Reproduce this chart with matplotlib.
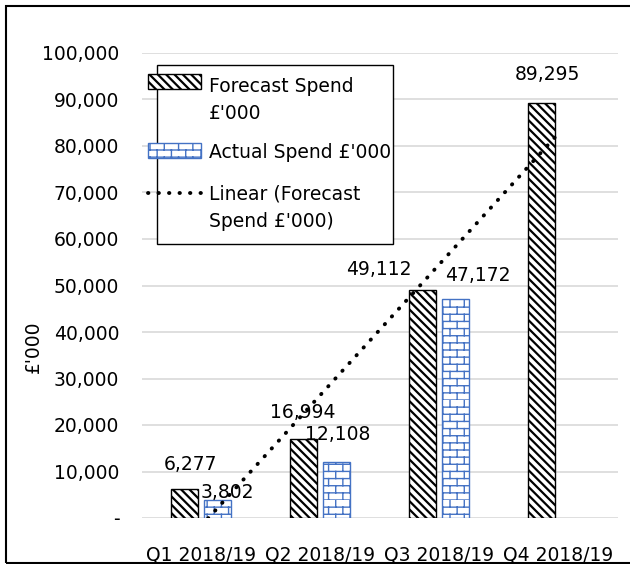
import warnings
import numpy as np
import matplotlib
matplotlib.use("Agg")
import matplotlib.pyplot as plt
from matplotlib import hatch as mhatch
from matplotlib.path import Path
from matplotlib.patches import Rectangle
from matplotlib.lines import Line2D
from matplotlib.ticker import FuncFormatter

warnings.filterwarnings("ignore")

quarters = ["Q1 2018/19", "Q2 2018/19", "Q3 2018/19", "Q4 2018/19"]
forecast = [6277, 16994, 49112, 89295]
actual = [3802, 12108, 47172]

# label offsets in pixels (dx, dy) from bar top
forecast_offsets = [(6, 24), (0, 26), (-43, 20), (6, 28)]
actual_offsets = [(10, 8), (1, 27), (22, 23)]


class BrickHatch(mhatch.HatchPatternBase):
    # brick wall pattern, triggered by 'b'
    def __init__(self, hatch, density):
        self.rows, self.cols = 14, 7
        on = 'b' in hatch
        self.num_vertices = (self.rows + self.rows * self.cols) * 2 if on else 0

    def set_vertices_and_codes(self, vertices, codes):
        segs = []
        for i in range(self.rows):
            segs.append(((0, i / self.rows), (1, i / self.rows)))
        for i in range(self.rows):
            for j in range(self.cols):
                x = ((j + 0.5 * (i % 2)) / self.cols) % 1
                segs.append(((x, i / self.rows), (x, (i + 1) / self.rows)))
        vertices[:] = np.array(segs).reshape(-1, 2)
        codes[0::2] = Path.MOVETO
        codes[1::2] = Path.LINETO


mhatch._hatch_types.append(BrickHatch)

plt.rcParams['font.family'] = ['DejaVu Sans']
plt.rcParams['font.size'] = 13.5

fig = plt.figure(figsize=(6.3, 5.64), dpi=100)
ax = fig.add_axes([141.5 / 630, 46 / 564, 476 / 630, 465 / 564])

x = np.arange(len(quarters))
w = 0.23
off = 0.141
blue = '#4472C4'
f_hatch = '\\' * 4
f_hlw = 1.6


def style_forecast(p):
    p.set_facecolor('white')
    p.set_edgecolor('black')
    p.set_hatch(f_hatch)
    if hasattr(p, 'set_hatch_linewidth'):
        p.set_hatch_linewidth(f_hlw)


def style_actual(p):
    p.set_facecolor('white')
    p.set_edgecolor(blue)
    p.set_hatch('b')
    if hasattr(p, 'set_hatch_linewidth'):
        p.set_hatch_linewidth(1.0)


plt.rcParams['hatch.linewidth'] = f_hlw
fbars = ax.bar(x - off, forecast, w, linewidth=1, zorder=3)
for b in fbars:
    style_forecast(b)

plt.rcParams['hatch.linewidth'] = 1.0
abars = ax.bar(x[:len(actual)] + off, actual, w, linewidth=1, zorder=3)
for b in abars:
    style_actual(b)

# linear trendline of forecast
coef = np.polyfit(x, forecast, 1)
dots = (0, (0.1, 2.6))
ax.plot(x, np.polyval(coef, x), color='black', linestyle=dots,
        dash_capstyle='round', linewidth=2.8, zorder=4)

for b, v, (dx, dy) in zip(fbars, forecast, forecast_offsets):
    ax.annotate(f"{v:,}", (b.get_x() + b.get_width() / 2, v),
                xytext=(dx, dy), textcoords='offset pixels',
                ha='center', va='center', zorder=5)
for b, v, (dx, dy) in zip(abars, actual, actual_offsets):
    ax.annotate(f"{v:,}", (b.get_x() + b.get_width() / 2, v),
                xytext=(dx, dy), textcoords='offset pixels',
                ha='center', va='center', zorder=5)

ax.set_xlim(-0.5, 3.5)
ax.set_ylim(0, 100000)
ax.set_yticks(np.arange(0, 100001, 10000))
ax.yaxis.set_major_formatter(FuncFormatter(lambda v, p: '-' if v == 0 else f"{int(v):,}"))
ax.set_xticks(x)
ax.set_xticklabels(quarters)
ax.tick_params(axis='x', length=0, pad=20)
ax.tick_params(axis='y', length=0, pad=16)
for s in ax.spines.values():
    s.set_visible(False)
ax.grid(axis='y', color='#d9d9d9', linewidth=1.2, zorder=0)
ax.set_axisbelow(True)

ax.set_ylabel("£'000")
ax.yaxis.set_label_coords(-0.207, 0.368)

# legend drawn by hand (Excel style: keys poke out of the box, aligned to first line)
def px(xp, yp):
    return ((xp - 141.5) / 476, (518 - yp) / 465)


bx0, by0 = px(157, 244)
bx1, by1 = px(393, 65)
ax.add_patch(Rectangle((bx0, by0), bx1 - bx0, by1 - by0, transform=ax.transAxes,
                       fill=True, facecolor='white', edgecolor='black',
                       linewidth=1, zorder=6, clip_on=False))

kx0, _ = px(148, 0)
kx1, _ = px(201, 0)
_, fy0 = px(0, 89)
_, fy1 = px(0, 74)
plt.rcParams['hatch.linewidth'] = f_hlw
kf = Rectangle((kx0, fy0), kx1 - kx0, fy1 - fy0, transform=ax.transAxes,
               linewidth=1, zorder=7, clip_on=False)
style_forecast(kf)
ax.add_patch(kf)
_, ay0 = px(0, 158)
_, ay1 = px(0, 143)
plt.rcParams['hatch.linewidth'] = 1.0
ka = Rectangle((kx0, ay0), kx1 - kx0, ay1 - ay0, transform=ax.transAxes,
               linewidth=1, zorder=7, clip_on=False)
style_actual(ka)
ax.add_patch(ka)
_, ly = px(0, 193)
ax.add_line(Line2D([kx0, kx1], [ly, ly], transform=ax.transAxes, color='black',
                   linestyle=dots, dash_capstyle='round', linewidth=2.8,
                   zorder=7, clip_on=False))

legend_lines = [("Forecast Spend", 92), ("£'000", 119), ("Actual Spend £'000", 158),
                ("Linear (Forecast", 200), ("Spend £'000)", 227)]
tx, _ = px(209, 0)
for t, yb in legend_lines:
    _, ty = px(0, yb)
    ax.text(tx, ty, t, transform=ax.transAxes, ha='left', va='baseline',
            zorder=8, clip_on=False)

fig.patches.append(Rectangle((6 / 630, 1 / 564), 1.0, 1 - 7 / 564,
                             transform=fig.transFigure, fill=False,
                             edgecolor='black', linewidth=1.5))

fig.savefig("out.png", dpi=100)
